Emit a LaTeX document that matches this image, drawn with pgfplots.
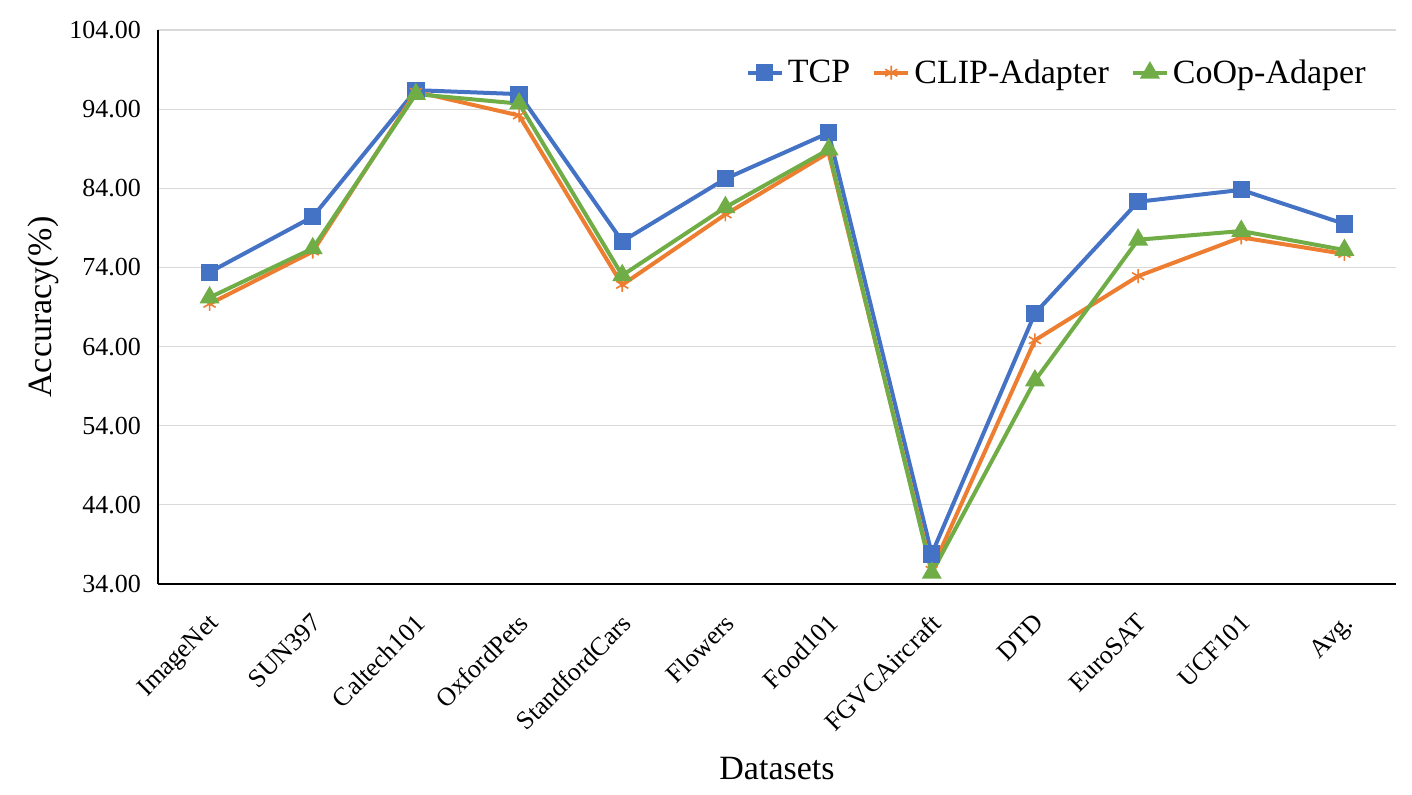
\documentclass[border=0pt]{standalone}
\usepackage{pgfplots}
\pgfplotsset{compat=1.18}
\usepackage{fontspec}
\setmainfont{Liberation Serif}
\definecolor{tcpblue}{HTML}{4472C4}
\definecolor{clipor}{HTML}{ED7D31}
\definecolor{coopgr}{HTML}{70AD47}
\definecolor{gridgray}{HTML}{D9D9D9}
\begin{document}
\begin{tikzpicture}
\begin{axis}[
  width=619pt, height=277pt, scale only axis,
  xmin=-0.5, xmax=11.5,
  ymin=34, ymax=104,
  ytick={34,44,...,104},
  xtick={0,...,11},
  xticklabels={ImageNet,SUN397,Caltech101,OxfordPets,StandfordCars,Flowers,Food101,FGVCAircraft,DTD,EuroSAT,UCF101,Avg.},
  xticklabel style={rotate=45, anchor=north east, font=\fontsize{13}{15}\selectfont, xshift=-7.3pt, yshift=-5.8pt},
  yticklabel style={font=\fontsize{13}{15}\selectfont, xshift=-5pt, /pgf/number format/.cd, fixed, fixed zerofill, precision=2, assume math mode=true},
  major tick length=0pt,
  axis x line*=bottom, axis y line*=left,
  axis line style={-, black, line width=0.8pt},
  ymajorgrids, grid style={gridgray, line width=0.6pt},
  ylabel={Accuracy(\%)}, xlabel={Datasets},
  every axis y label/.append style={at={(-57.5pt,138.5pt)}, anchor=center, rotate=0, font=\fontsize{17}{19}\selectfont},
  every axis x label/.append style={at={(309.5pt,-97.5pt)}, anchor=base, font=\fontsize{17}{19}\selectfont},
  legend style={at={(1,1)}, anchor=north east, xshift=-10pt, yshift=-10.5pt, draw=none, fill=none, font=\fontsize{17}{19}\selectfont, /tikz/every even column/.append style={column sep=9pt}},
  legend columns=3,
  every axis plot/.append style={line width=2pt},
]
\addplot[tcpblue, mark=square*, mark size=3.3pt] coordinates {
(0,73.4) (1,80.4) (2,96.4) (3,95.9) (4,77.3) (5,85.2) (6,91.0) (7,37.8) (8,68.2) (9,82.3) (10,83.8) (11,79.5)};
\addlegendentry{TCP}
\addplot[clipor, mark=asterisk, mark size=3.5pt, mark options={line width=0.8pt}] coordinates {
(0,69.4) (1,76.0) (2,96.2) (3,93.2) (4,71.8) (5,80.7) (6,88.5) (7,35.8) (8,64.8) (9,72.9) (10,77.8) (11,75.7)};
\addlegendentry{CLIP-Adapter}
\addplot[coopgr, mark=triangle*, mark size=3.8pt] coordinates {
(0,70.2) (1,76.4) (2,95.9) (3,94.7) (4,73.0) (5,81.6) (6,88.9) (7,35.4) (8,59.7) (9,77.5) (10,78.6) (11,76.2)};
\addlegendentry{CoOp-Adaper}
\end{axis}
\path (-79pt,-105pt) rectangle (627pt,292pt);
\end{tikzpicture}
\end{document}
